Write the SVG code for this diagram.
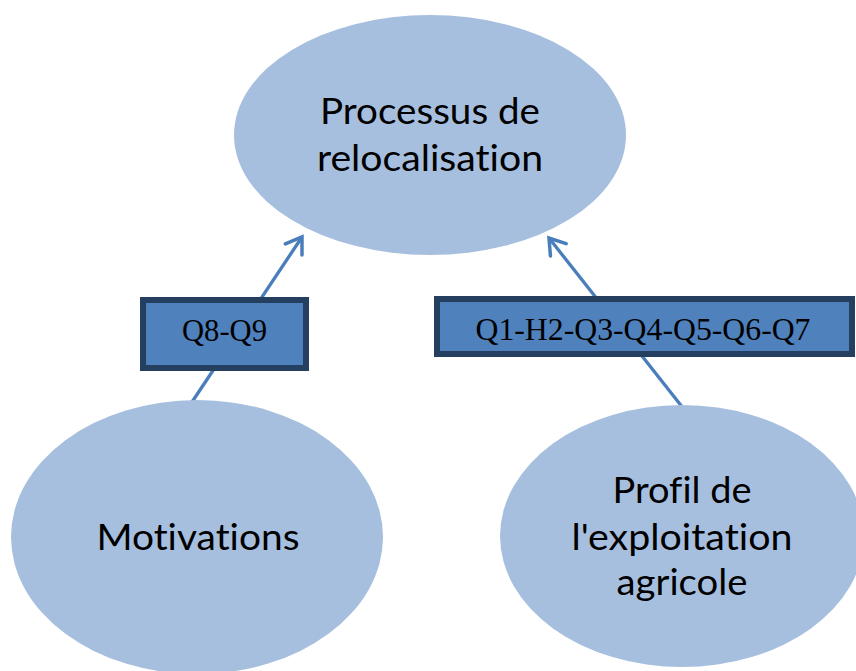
<svg xmlns="http://www.w3.org/2000/svg" width="856" height="671" viewBox="0 0 856 671">
<defs>
<style>
.node{fill:#A7BFDE;}
.nt{font-family:Lato,"Open Sans",sans-serif;font-size:37px;fill:#000;text-anchor:middle;font-variant-ligatures:none;font-feature-settings:"liga" 0,"clig" 0;}
.box{fill:#4F81BD;stroke:#243F60;stroke-width:6;}
.bt{font-family:"Liberation Serif","Times New Roman",serif;font-size:31px;fill:#000;text-anchor:middle;}
.conn{stroke:#4A7EBB;stroke-width:3.3;fill:none;}
</style>
<marker id="arr" markerUnits="userSpaceOnUse" markerWidth="30" markerHeight="30" viewBox="-20 -15 30 30" refX="0" refY="0" orient="auto">
<path d="M-15,-10 L0,0 L-15,10" fill="none" stroke="#4A7EBB" stroke-width="3.5" stroke-linecap="round"/>
</marker>
</defs>
<rect width="856" height="671" fill="#fff"/>
<g id="connectors">
<line class="conn" x1="188" y1="408" x2="302" y2="237" marker-end="url(#arr)"/>
<line class="conn" x1="683" y1="408" x2="549" y2="238" marker-end="url(#arr)"/>
</g>
<g id="processus">
<ellipse class="node" cx="430" cy="135" rx="196" ry="120"/>
<text class="nt" x="430" y="124" textLength="220" lengthAdjust="spacingAndGlyphs">Processus de</text>
<text class="nt" x="430" y="171" textLength="226" lengthAdjust="spacingAndGlyphs">relocalisation</text>
</g>
<g id="motivations">
<ellipse class="node" cx="197" cy="537" rx="186" ry="137"/>
<text class="nt" x="198" y="550" textLength="203" lengthAdjust="spacingAndGlyphs">Motivations</text>
</g>
<g id="profil">
<ellipse class="node" cx="682" cy="536" rx="182" ry="131"/>
<text class="nt" x="682" y="503" textLength="139" lengthAdjust="spacingAndGlyphs">Profil de</text>
<text class="nt" x="682" y="550" textLength="221" lengthAdjust="spacingAndGlyphs">l'exploitation</text>
<text class="nt" x="682" y="595" textLength="131" lengthAdjust="spacingAndGlyphs">agricole</text>
</g>
<g id="label-q8q9">
<rect class="box" x="143" y="300" width="163" height="68"/>
<text class="bt" x="224.5" y="341" textLength="85" lengthAdjust="spacingAndGlyphs">Q8-Q9</text>
</g>
<g id="label-q1q7">
<rect class="box" x="437" y="299" width="415" height="55"/>
<text class="bt" x="643" y="340" textLength="335" lengthAdjust="spacingAndGlyphs">Q1-H2-Q3-Q4-Q5-Q6-Q7</text>
</g>
</svg>
